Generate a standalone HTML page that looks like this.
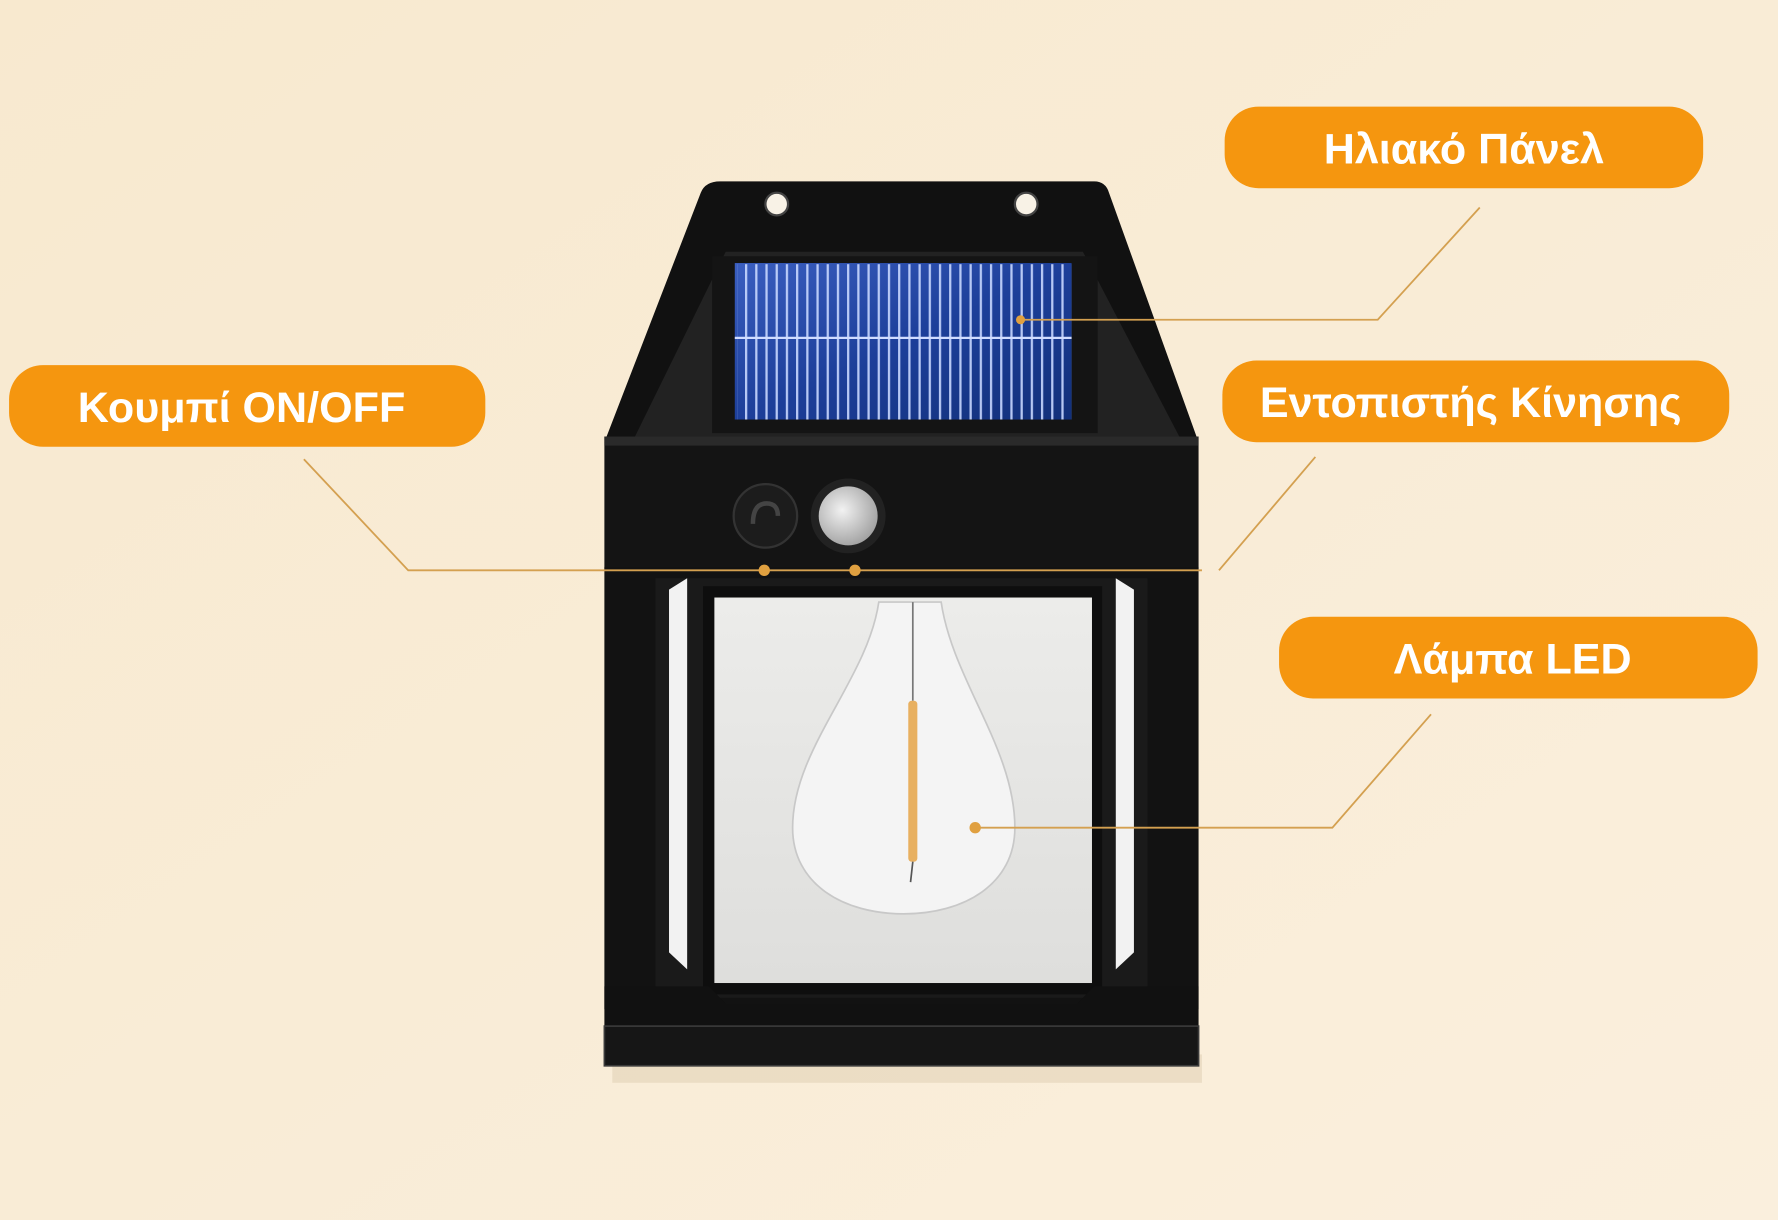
<!DOCTYPE html>
<html><head><meta charset="utf-8"><style>
html,body{margin:0;padding:0;background:#f9ecd6;}
svg{display:block}
text{font-family:"Liberation Sans",sans-serif;font-weight:bold;fill:#fff;}
</style></head><body>
<svg width="1778" height="1220" viewBox="0 0 1568 1076" preserveAspectRatio="none">
<defs>
<linearGradient id="bg" x1="0" y1="0" x2="1" y2="1"><stop offset="0" stop-color="#f8e9cf"/><stop offset="1" stop-color="#faefdd"/></linearGradient>
<linearGradient id="sol" x1="0" y1="0" x2="1" y2="1"><stop offset="0" stop-color="#3a5ec0"/><stop offset="0.5" stop-color="#1d3f9a"/><stop offset="1" stop-color="#12307a"/></linearGradient>
<pattern id="cells" width="9" height="10" patternUnits="userSpaceOnUse"><rect x="0" y="0" width="2" height="10" fill="#c8d8ff" opacity="0.9"/></pattern>
<radialGradient id="sen" cx="0.4" cy="0.4" r="0.7"><stop offset="0" stop-color="#f2f2f2"/><stop offset="1" stop-color="#9a9a9a"/></radialGradient>
<linearGradient id="glass" x1="0" y1="0" x2="0" y2="1"><stop offset="0" stop-color="#ececea"/><stop offset="1" stop-color="#dededc"/></linearGradient>
</defs>
<rect width="1568" height="1076" fill="url(#bg)"/>
<rect x="540" y="930" width="520" height="25" fill="#e6d6bc" opacity="0.7"/>
<path d="M635,160 L965,160 Q975,160 978,170 L1057,390 L533,390 L618,170 Q622,160 635,160 Z" fill="#111"/>
<circle cx="685" cy="180" r="10" fill="#f8f2e6" stroke="#444" stroke-width="2"/>
<circle cx="905" cy="180" r="10" fill="#f8f2e6" stroke="#444" stroke-width="2"/>
<path d="M640,222 L955,222 L1040,385 L560,385 Z" fill="#222"/>
<rect x="628" y="226" width="340" height="156" fill="#141414"/>
<rect x="648" y="232" width="297" height="138" fill="url(#sol)"/>
<rect x="650" y="233" width="295" height="137" fill="url(#cells)"/>
<line x1="648" y1="298" x2="945" y2="298" stroke="#d0dcff" stroke-width="2"/>
<rect x="533" y="385" width="524" height="118" fill="#141414"/>
<rect x="533" y="385" width="524" height="8" fill="#2a2a2a"/>
<circle cx="675" cy="455" r="28" fill="#1c1c1c" stroke="#333" stroke-width="2"/>
<path d="M664,462 Q664,444 676,444 Q686,444 686,455" fill="none" stroke="#444" stroke-width="4"/>
<circle cx="748" cy="455" r="33" fill="#222"/>
<circle cx="748" cy="455" r="26" fill="url(#sen)"/>
<rect x="533" y="500" width="524" height="390" fill="#121212"/>
<rect x="578" y="510" width="434" height="370" fill="#1a1a1a"/>
<path d="M590,520 L606,510 L606,855 L590,840 Z" fill="#f2f2f2"/>
<path d="M1000,520 L984,510 L984,855 L1000,840 Z" fill="#f2f2f2"/>
<rect x="620" y="517" width="352" height="360" fill="#0e0e0e"/>
<rect x="630" y="527" width="333" height="340" fill="url(#glass)"/>
<path d="M775,531 L830,531 C840,600 895,660 895,730 C895,780 850,806 797,806 C744,806 699,780 699,730 C699,660 765,600 775,531 Z" fill="#f4f4f4" stroke="#c8c8c8" stroke-width="1.5"/>
<line x1="805" y1="531" x2="805" y2="618" stroke="#777" stroke-width="1.5"/>
<rect x="801" y="618" width="8" height="142" rx="3" fill="#e8b060"/>
<line x1="805" y1="760" x2="803" y2="778" stroke="#555" stroke-width="1.5"/>
<path d="M533,870 L625,870 L640,885 L950,885 L965,870 L1057,870 L1057,940 L533,940 Z" fill="#111"/>
<rect x="533" y="905" width="524" height="35" fill="#161616" stroke="#3a3a3a" stroke-width="1.5"/>
<g stroke="#d4a050" stroke-width="1.6" fill="none">
<polyline points="1305,183 1215,282 900,282"/>
<polyline points="268,405 360,503 1060,503"/>
<polyline points="1160,403 1075,503"/>
<polyline points="1262,630 1175,730 860,730"/>
</g>
<g fill="#e0a040">
<circle cx="900" cy="282" r="4"/><circle cx="674" cy="503" r="5"/><circle cx="754" cy="503" r="5"/><circle cx="860" cy="730" r="5"/>
</g>
<g fill="#f5960f">
<rect x="1080" y="94" width="422" height="72" rx="30"/>
<rect x="8" y="322" width="420" height="72" rx="30"/>
<rect x="1078" y="318" width="447" height="72" rx="30"/>
<rect x="1128" y="544" width="422" height="72" rx="30"/>
</g>
<text x="1291" y="144" font-size="38" text-anchor="middle">Ηλιακό Πάνελ</text>
<text x="213" y="372" font-size="38" text-anchor="middle">Κουμπί ON/OFF</text>
<text x="1297" y="368" font-size="38" text-anchor="middle">Εντοπιστής Κίνησης</text>
<text x="1334" y="594" font-size="38" text-anchor="middle">Λάμπα LED</text>
</svg>
</body></html>
